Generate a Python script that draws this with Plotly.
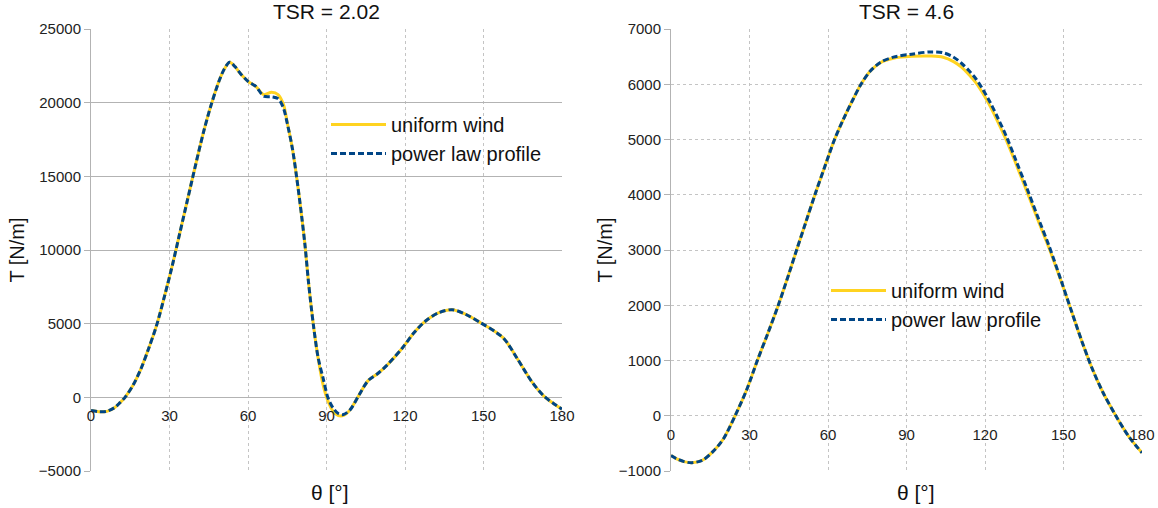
import plotly.graph_objects as go

# ---------------- data ----------------
theta_left = [0, 3, 6, 9, 11, 13, 16, 19, 22, 25, 28, 31, 34, 37, 40, 43, 46, 49, 51, 53, 55, 57,
              60, 63, 66, 69, 71.5, 73.5, 75, 77, 78.7, 80.5, 81.8, 83.1, 85, 86.8, 88.7, 90.6, 92.5,
              94.5, 96.5, 99, 102.5, 106, 109.5, 113.5, 119, 123.5, 128, 133, 138, 143, 149, 154.5,
              158, 163, 168.5, 173, 177, 180]
uniform_left = [-900, -980, -950, -700, -380, 0, 800, 1900, 3300, 4850, 6800, 8900, 11200, 13500,
                15800, 18000, 19900, 21500, 22300, 22750, 22450, 22000, 21450, 21100, 20550, 20700,
                20550, 19900, 18650, 16850, 14800, 12300, 10300, 7850, 4900, 2650, 850, -270, -950,
                -1240, -1230, -850, 180, 1150, 1600, 2250, 3350, 4400, 5200, 5750, 5950, 5650, 5050,
                4450, 3950, 2600, 1050, 100, -450, -800]
power_left = [-900, -980, -950, -700, -380, 0, 800, 1900, 3300, 4850, 6800, 8900, 11200, 13500,
              15800, 18000, 19900, 21500, 22300, 22750, 22450, 22000, 21450, 21100, 20450, 20400,
              20270, 19660, 18600, 16850, 14800, 12300, 10300, 7850, 4900, 2700, 1300, -50, -720,
              -1100, -1170, -850, 180, 1150, 1600, 2250, 3350, 4400, 5200, 5750, 5950, 5650, 5050,
              4450, 3950, 2600, 1050, 100, -450, -800]

theta_right = [0, 2, 5, 8, 12, 16, 20, 24.5, 29, 33, 37, 41, 45, 48, 51.5, 55, 58.7, 62.5, 66, 69.5,
               72.5, 76, 80, 85, 92, 99, 104, 108, 111, 114, 116.5, 119, 122, 125, 128.3, 132, 136,
               140, 144.5, 149, 153, 157, 161, 165, 170, 175, 180]
uniform_right = [-720, -775, -830, -850, -805, -650, -420, 0, 480, 1000, 1490, 2000, 2560, 3000,
                 3500, 4000, 4500, 5000, 5380, 5720, 5990, 6230, 6390, 6470, 6505, 6510, 6490, 6410,
                 6310, 6170, 6030, 5850, 5600, 5310, 4970, 4540, 4060, 3570, 3030, 2450, 1900, 1350,
                 850, 430, 0, -380, -670]
power_right = [-720, -775, -830, -850, -805, -650, -420, 0, 480, 1000, 1490, 2000, 2560, 3000,
               3500, 4000, 4500, 5000, 5380, 5720, 5990, 6230, 6395, 6490, 6545, 6585, 6570, 6490,
               6380, 6240, 6100, 5920, 5670, 5380, 5040, 4600, 4120, 3620, 3070, 2460, 1900, 1350,
               850, 430, 0, -380, -670]

titles = ["TSR = 2.02", "TSR = 4.6"]
series_names = ["uniform wind", "power law profile"]
x_title = "θ [°]"
y_title = "T [N/m]"
x_ticks = [0, 30, 60, 90, 120, 150, 180]
y_range_left = [-5000, 25000]
y_range_right = [-1000, 7000]

# ---------------- styling ----------------
W, H = 1158, 508
YELLOW = "#ffd320"
BLUE = "#004586"
FONT = "Liberation Sans, Arial, sans-serif"

left_dom = [91 / W, 562 / W]
right_dom = [671 / W, 1142 / W]
y_dom = [1 - 471 / H, 1 - 29 / H]


def zero_pos(yr):
    return y_dom[0] + (y_dom[1] - y_dom[0]) * (0 - yr[0]) / (yr[1] - yr[0])


fig = go.Figure()

for th, u, p, xa, ya, lg in [
    (theta_left, uniform_left, power_left, "x", "y", "legend"),
    (theta_right, uniform_right, power_right, "x2", "y2", "legend2"),
]:
    fig.add_trace(go.Scatter(x=th, y=u, mode="lines", name=series_names[0], xaxis=xa, yaxis=ya,
                             legend=lg, line=dict(color=YELLOW, width=3, shape="spline", smoothing=0.9)))
    fig.add_trace(go.Scatter(x=th, y=p, mode="lines", name=series_names[1], xaxis=xa, yaxis=ya,
                             legend=lg, line=dict(color=BLUE, width=3, dash="6px,3px",
                                                  shape="spline", smoothing=0.9)))

xcommon = dict(range=[0, 180], tickvals=x_ticks, showgrid=True, gridcolor="#c4c4c4", griddash="dot",
               gridwidth=1, showline=False, zeroline=False, ticks="", tickfont=dict(size=15, color="#222"),
               ticklabelstandoff=8, anchor="free", automargin=False)
ycommon = dict(showgrid=True, zeroline=False, showline=True, linecolor="#b3b3b3", linewidth=1,
               ticks="outside", ticklen=6, tickcolor="#b3b3b3", tickfont=dict(size=15, color="#222"),
               domain=y_dom, automargin=False, tickformat="d")

legend_common = dict(xanchor="left", yanchor="top", bgcolor="rgba(0,0,0,0)",
                     font=dict(size=20, color="#111"), itemwidth=55, tracegroupgap=0)

fig.update_layout(
    width=W, height=H, margin=dict(l=0, r=0, t=0, b=0),
    paper_bgcolor="white", plot_bgcolor="white",
    font=dict(family=FONT, color="#111"),
    xaxis=dict(domain=left_dom, position=zero_pos(y_range_left), **xcommon),
    xaxis2=dict(domain=right_dom, position=zero_pos(y_range_right), **xcommon),
    yaxis=dict(range=y_range_left, dtick=5000, anchor="x", gridcolor="#b3b3b3", griddash="solid",
               title=dict(text=y_title, font=dict(size=20, color="#111"), standoff=8), **ycommon),
    yaxis2=dict(range=y_range_right, dtick=1000, anchor="x2", gridcolor="#c4c4c4", griddash="dot",
                title=dict(text=y_title, font=dict(size=20, color="#111"), standoff=0), **ycommon),
    legend=dict(x=326 / W, y=1 - 105 / H, **legend_common),
    legend2=dict(x=826 / W, y=1 - 271 / H, **legend_common),
    annotations=[
        dict(text=titles[0], x=sum(left_dom) / 2, y=1 - 12 / H, xref="paper", yref="paper",
             showarrow=False, font=dict(size=21, color="#111"), xanchor="center", yanchor="middle"),
        dict(text=titles[1], x=sum(right_dom) / 2, y=1 - 12 / H, xref="paper", yref="paper",
             showarrow=False, font=dict(size=21, color="#111"), xanchor="center", yanchor="middle"),
        dict(text=x_title, x=sum(left_dom) / 2 + 3 / W, y=1 - 492 / H, xref="paper", yref="paper",
             showarrow=False, font=dict(size=21, color="#111"), xanchor="center", yanchor="middle"),
        dict(text=x_title, x=sum(right_dom) / 2 + 10 / W, y=1 - 492 / H, xref="paper", yref="paper",
             showarrow=False, font=dict(size=21, color="#111"), xanchor="center", yanchor="middle"),
    ],
)

fig.write_html("out.html")
